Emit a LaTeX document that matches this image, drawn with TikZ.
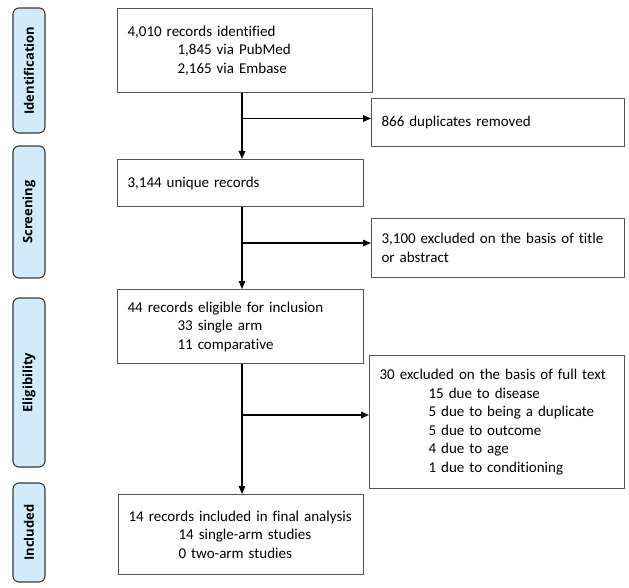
\documentclass[tikz,border=0pt]{standalone}
\usepackage{fontspec}
\setmainfont{Carlito}[Ligatures=NoCommon]
\newfontfamily\sidefont{Open Sans}
\usetikzlibrary{arrows.meta}
\definecolor{sideblue}{HTML}{D2EBFA}
\definecolor{sideedge}{HTML}{3A3A3A}
\definecolor{boxedge}{HTML}{555555}
\begin{document}
\begin{tikzpicture}[x=1pt,y=-1pt,
  sidebar/.style={draw=sideedge,line width=1.1pt,fill=sideblue,rounded corners=6pt},
  sidelabel/.style={rotate=90,font=\sidefont\bfseries\fontsize{13}{15}\selectfont,text=black},
  box/.style={draw=boxedge,line width=1.1pt,anchor=north west,align=left,inner xsep=10pt,
    font=\fontsize{15}{18.5}\selectfont},
  flow/.style={line width=1.4pt,-{Triangle[length=8pt,width=6.5pt]}}]
\useasboundingbox (0,0) rectangle (629,588);
\fill[white] (0,0) rectangle (629,588);
% side bars
\draw[sidebar] (13,8) rectangle (45,133);
\node[sidelabel] (lid) at (29,70.5) {Identification};
\draw[sidebar] (13,146) rectangle (45,278);
\node[sidelabel] (lscr) at (29,212) {Screening};
\draw[sidebar] (13,298) rectangle (45,467);
\node[sidelabel] (leli) at (29,382.5) {Eligibility};
\draw[sidebar] (13,483) rectangle (45,582);
\node[sidelabel] (linc) at (29,532.5) {Included};
% main boxes
\node[box,text width=235pt,minimum height=84pt] (b1) at (117,8)
  {4,010 records identified\\\hspace*{50pt}1,845 via PubMed\\\hspace*{50pt}2,165 via Embase};
\node[box,text width=233pt,minimum height=48pt] (dup) at (371,98)
  {866 duplicates removed};
\node[box,text width=226pt,minimum height=47pt] (b2) at (117,159)
  {3,144 unique records};
\node[box,text width=233pt,minimum height=59pt] (ex2) at (371,218)
  {3,100 excluded on the basis of title\\or abstract};
\node[box,text width=226pt,minimum height=74pt] (b3) at (117,289)
  {44 records eligible for inclusion\\\hspace*{50pt}33 single arm\\\hspace*{50pt}11 comparative};
\node[box,text width=235pt,minimum height=133pt] (ex3) at (369,355)
  {30 excluded on the basis of full text\\\hspace*{49pt}15 due to disease\\\hspace*{49pt}5 due to being a duplicate\\\hspace*{49pt}5 due to outcome\\\hspace*{49pt}4 due to age\\\hspace*{49pt}1 due to conditioning};
\node[box,text width=225pt,minimum height=80pt] (b4) at (118,494)
  {14 records included in final analysis\\\hspace*{50pt}14 single-arm studies\\\hspace*{50pt}0 two-arm studies};
% connectors
\coordinate (sx) at (242,0);
\coordinate (j1) at (242,118.5);
\coordinate (j2) at (242,243);
\coordinate (j3) at (242,415);
\draw[flow] (b1.south -| sx) -- (b2.north -| sx);
\draw[flow] (j1) -- (dup.west |- j1);
\draw[flow] (b2.south -| sx) -- (b3.north -| sx);
\draw[flow] (j2) -- (ex2.west |- j2);
\draw[flow] (b3.south -| sx) -- (b4.north -| sx);
\draw[flow] (j3) -- (ex3.west |- j3);
\end{tikzpicture}
\end{document}
